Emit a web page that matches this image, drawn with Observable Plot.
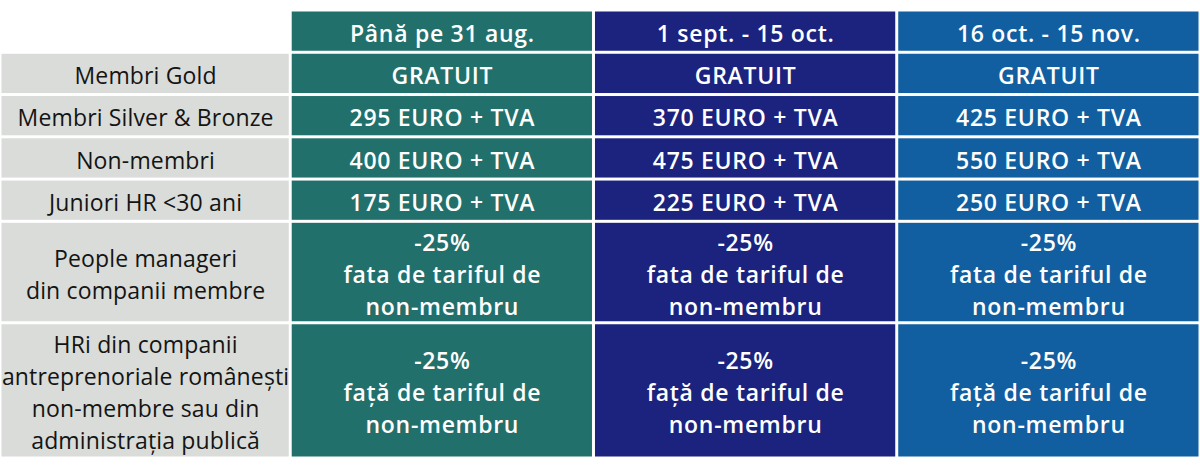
<!DOCTYPE html>
<html><head><meta charset="utf-8">
<script src="https://cdn.jsdelivr.net/npm/d3@7"></script>
<script src="https://cdn.jsdelivr.net/npm/@observablehq/plot@0.6"></script>
<style>
body{margin:0;background:#fff;overflow:hidden}
g[fill="#141414"]{letter-spacing:0.15px}
g[fill="#ffffff"]{letter-spacing:0.7px}
</style>
</head><body><div id="chart"></div>
<script>
const periods = ["Până pe 31 aug.", "1 sept. - 15 oct.", "16 oct. - 15 nov."];
const periodColors = ["#22706c", "#1b237f", "#115fa0"];
const categories = [
  "Membri Gold",
  "Membri Silver & Bronze",
  "Non-membri",
  "Juniori HR <30 ani",
  "People manageri\ndin companii membre",
  "HRi din companii\nantreprenoriale românești\nnon-membre sau din\nadministrația publică"
];
const goldValues = ["GRATUIT", "GRATUIT", "GRATUIT"];
const silverBronzePrices = [295, 370, 425];
const nonMemberPrices = [400, 475, 550];
const juniorPrices = [175, 225, 250];
const managerDiscount = [25, 25, 25];
const publicDiscount = [25, 25, 25];

const eur = v => `${v} EURO + TVA`;
const rows = [
  {label: null, cells: periods},
  {label: categories[0], cells: goldValues},
  {label: categories[1], cells: silverBronzePrices.map(eur)},
  {label: categories[2], cells: nonMemberPrices.map(eur)},
  {label: categories[3], cells: juniorPrices.map(eur)},
  {label: categories[4], cells: managerDiscount.map(v => `-${v}%\nfata de tariful de\nnon-membru`)},
  {label: categories[5], cells: publicDiscount.map(v => `-${v}%\nfață de tariful de\nnon-membru`)}
];

// layout: column widths (label column slightly narrower), row heights from line counts
const colWidths = [0.957, 1, 1, 1];
const colStart = d3.cumsum([0, ...colWidths]);
const W = colStart[colWidths.length];
let yAcc = 0;
const cells = [];
rows.forEach(r => {
  const lines = d3.max([r.label ?? "", ...r.cells], s => String(s).split("\n").length);
  const h = lines === 1 ? 1 : lines * 0.8;
  const y1 = yAcc, y2 = yAcc + h;
  yAcc = y2;
  if (r.label !== null) cells.push({x1: colStart[0], x2: colStart[1], y1, y2, text: r.label, fill: "#d9dcd8", kind: "label"});
  r.cells.forEach((t, i) => cells.push({x1: colStart[i + 1], x2: colStart[i + 2], y1, y2, text: String(t), fill: periodColors[i], kind: "value"}));
});
const H = yAcc;

const font = "'Open Sans', 'Noto Sans', sans-serif";
const chart = Plot.plot({
  width: 1200,
  height: 469,
  marginLeft: 0, marginRight: 0, marginTop: 10, marginBottom: 11,
  style: {fontFamily: font, background: "#fff"},
  x: {domain: [0, W], axis: null},
  y: {domain: [0, H], reverse: true, axis: null},
  color: {type: "identity"},
  marks: [
    Plot.rect(cells, {x1: "x1", x2: "x2", y1: "y1", y2: "y2", fill: "fill", inset: 1.5}),
    Plot.text(cells.filter(d => d.kind === "label"), {
      x: d => (d.x1 + d.x2) / 2, y: d => (d.y1 + d.y2) / 2, text: "text", fill: "#141414",
      fontFamily: font, fontSize: 23, lineHeight: 1.4, lineAnchor: "middle", fontWeight: 500
    }),
    Plot.text(cells.filter(d => d.kind === "value"), {
      x: d => (d.x1 + d.x2) / 2, y: d => (d.y1 + d.y2) / 2, text: "text", fill: "#ffffff",
      fontFamily: font, fontSize: 23, lineHeight: 1.4, lineAnchor: "middle", fontWeight: 600
    })
  ]
});
document.getElementById("chart").append(chart);
</script>
</body></html>
